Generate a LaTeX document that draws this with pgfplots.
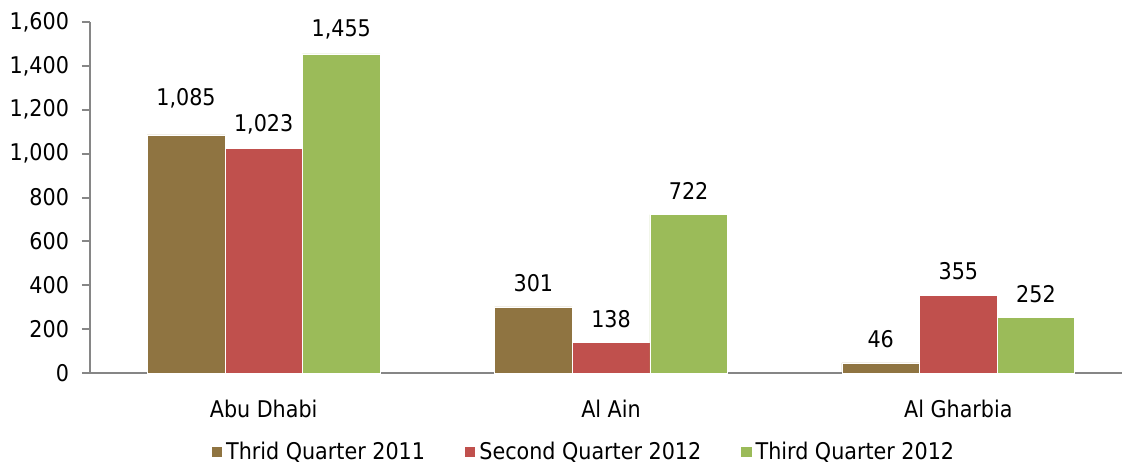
\documentclass[border=0pt]{standalone}
\usepackage{pgfplots}
\pgfplotsset{compat=1.18}
\usepackage{fontspec}
\setmainfont{DejaVu Sans Condensed}
\definecolor{cA}{RGB}{143,116,65}
\definecolor{cB}{RGB}{192,80,77}
\definecolor{cC}{RGB}{155,187,89}
\definecolor{axgray}{RGB}{134,134,134}
\newcommand{\chartfont}{\fontsize{11.5}{13.5}\selectfont}
\begin{document}
\begin{tikzpicture}
\path[use as bounding box] (-45pt,-46pt) rectangle (516pt,186.5pt);
\begin{axis}[
  at={(0pt,0pt)}, anchor=south west,
  scale only axis,
  width=521pt, height=175.5pt,
  ymin=0, ymax=1600, ytick={0,200,...,1600},
  xmin=-0.5, xmax=2.5,
  xtick={0,1,2}, xticklabels={Abu Dhabi,Al Ain,Al Gharbia},
  axis x line*=bottom, axis y line*=left,
  axis line style={axgray, line width=1pt},
  x axis line style={-}, y axis line style={-},
  tick style={axgray, line width=1pt},
  xtick style={draw=none},
  ytick align=outside, major tick length=4pt,
  yticklabel style={font=\chartfont, xshift=-3pt},
  xticklabel style={font=\chartfont, yshift=-6pt},
  /pgf/number format/assume math mode=true,
  /pgf/number format/1000 sep={,},
  ybar=0pt, bar width=0.2235,
  every axis plot/.append style={draw=white, line width=0.3pt},
  nodes near coords,
  visualization depends on={value \thisrow{off} \as \myoff},
  every node near coord/.append style={font=\chartfont, anchor=center, yshift=\myoff, /pgf/number format/1000 sep={,}, /pgf/number format/assume math mode=true, text=black},
  legend style={at={(0.475,-0.225)}, anchor=center, draw=none, legend columns=3,
    font=\chartfont,
    /tikz/every even column/.append style={column sep=18pt}},
  legend image code/.code={\fill[#1, draw=none] (0pt,-2.6pt) rectangle (5.2pt,2.6pt);},
  clip=false,
]
\addplot[fill=cA] table[x=x,y=y] {
x y off
0 1085 18.5pt
1 301 12pt
2 46 12pt
};
\addplot[fill=cB] table[x=x,y=y] {
x y off
0 1023 12pt
1 138 12pt
2 355 12pt
};
\addplot[fill=cC] table[x=x,y=y] {
x y off
0 1455 12pt
1 722 12pt
2 252 12pt
};
\legend{Thrid Quarter 2011, Second Quarter 2012, Third Quarter 2012}
\end{axis}
\end{tikzpicture}
\end{document}
